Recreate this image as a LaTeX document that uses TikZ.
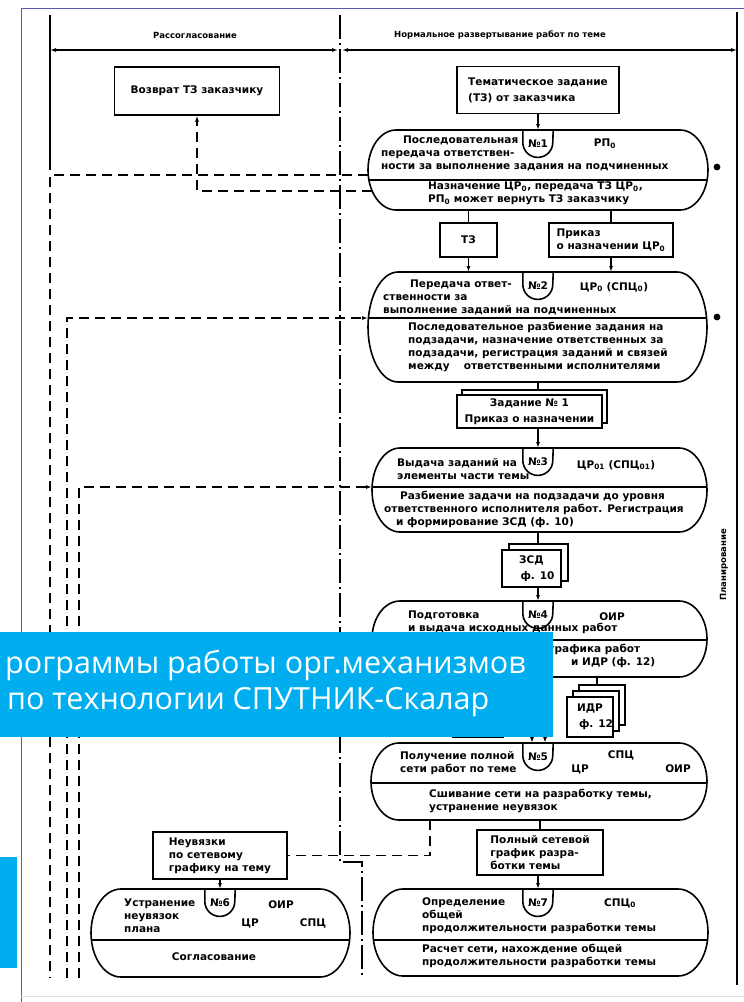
\documentclass[tikz,border=0pt]{standalone}
\usepackage{fontspec}
\newfontfamily\dfont{DejaVu Sans}
\newfontfamily\bannerfont{Open Sans}
\usetikzlibrary{arrows.meta,shadows,calc}

\definecolor{bannerblue}{RGB}{0,174,239}
\definecolor{frameblue}{RGB}{90,90,180}

\tikzset{
  txt/.style={font=\dfont\bfseries\fontsize{10.5}{13}\selectfont, inner sep=0pt, align=left},
  hdr/.style={font=\dfont\bfseries\fontsize{8.5}{10}\selectfont, inner sep=0pt},
  box/.style={txt, draw, line width=1.2pt, fill=white},
  oval/.style={inner sep=0pt, outer sep=0pt},
  ovalln/.style={line width=1.6pt},
  thinln/.style={line width=1.3pt},
  badge/.style={txt, anchor=north, minimum width=30, minimum height=27},
  dashln/.style={line width=1.4pt, dash pattern=on 10pt off 6pt},
  dashdot/.style={line width=1.2pt, dash pattern=on 24pt off 4pt on 2pt off 4pt},
  arr/.style={-{Latex[length=6pt,width=4pt]}},
  bannertxt/.style={font=\bannerfont\fontsize{30.5}{36}\selectfont, text=white, inner sep=0pt},
}

% outline of a stage: node, end radius, y of the dividing line
\newcommand\ovalshape[3]{%
  \draw[ovalln] let \p1=(#1.north west), \p2=(#1.south east),
      \n1={(\y1-\y2)/2}, \n2={(\y1+\y2)/2},
      \n3={#2*(1-sqrt(1-(((#3)-(\n2))/\n1)*(((#3)-(\n2))/\n1)))} in
    (\x1+#2pt,\y1) -- (\x2-#2pt,\y1)
    arc[start angle=90, end angle=-90, x radius=#2pt, y radius=\n1]
    -- (\x1+#2pt,\y2)
    arc[start angle=270, end angle=90, x radius=#2pt, y radius=\n1] -- cycle
    (\x1+\n3,#3 pt) -- (\x2-\n3,#3 pt);
}
% number tab on top of a stage
\newcommand\badgeshape[1]{%
  \draw[ovalln] (#1.north west) -- ([yshift=15pt]#1.south west)
    arc[start angle=180, end angle=360, radius=15pt] -- (#1.north east);
}

\begin{document}
\begin{tikzpicture}[x=1pt, y=1pt]
  \useasboundingbox (0,0) rectangle (744,-1002);

  % frame
  \draw[frameblue, line width=1pt] (21,-1002) -- (21,-8) -- (744,-8);
  \draw[black!12, line width=0.8pt] (21,-996) -- (744,-996);

  % columns
  \coordinate (lt) at (50,-15);
  \coordinate (lb) at (50,-170);
  \coordinate (rt) at (737,-12);
  \coordinate (rb) at (737,-985);
  \coordinate (mid) at (340,-50);
  \coordinate (dtop) at (340,-15);
  \coordinate (djog) at (340,-862);
  \coordinate (dbot) at (362,-978);
  \draw[thinln] (lt) -- (lb);
  \draw[thinln] (rt) -- (rb);
  \draw[dashdot] (dtop) -- (djog) -| (dbot);
  \draw[line width=1.1pt, {Latex[length=6pt,width=4pt]}-{Latex[length=6pt,width=4pt]}] (lt |- mid) -- ([xshift=-2pt]mid);
  \draw[line width=1.1pt, {Latex[length=6pt,width=4pt]}-{Latex[length=6pt,width=4pt]}] ([xshift=2pt]mid) -- (rt |- mid);
  \node[hdr] (h1) at (195,-35) {Рассогласование};
  \node[hdr] (h2) at (500,-35) {Нормальное развертывание работ по теме};
  \node[hdr, rotate=90] (plan) at (724,-565) {Планирование};

  % top boxes
  \node[box, minimum width=165, minimum height=48] (ret) at (197,-91) {Возврат ТЗ заказчику};
  \node[box, minimum width=162, minimum height=47] (tz) at (538,-90) {Тематическое задание\\[3pt](ТЗ) от заказчика};

  % stage 1
  \node[oval, minimum width=340, minimum height=80] (o1) at (538,-170) {};
  \node[badge] (b1) at (538,-130) {№1};
  \ovalshape{o1}{28}{-180}
  \badgeshape{b1}
  \node[txt, anchor=north west] (t1a) at (381,-136) {\hspace*{22pt}Последовательная\\передача ответствен-\\ности за выполнение задания на подчиненных};
  \node[txt] (t1b) at (605,-144) {РП\textsubscript{0}};
  \node[txt, anchor=north west] (t1c) at (428,-182) {Назначение ЦР\textsubscript{0}, передача ТЗ ЦР\textsubscript{0},\\РП\textsubscript{0} может вернуть ТЗ заказчику};
  \node[circle, fill, inner sep=2.4pt] (dot1) at (717,-167) {};
  \draw[thinln, arr] (tz) -- (b1);

  \node[box, minimum width=57, minimum height=34] (tzb) at (468.5,-240) {ТЗ};
  \node[box, minimum width=124, minimum height=34] (prk) at (611,-240) {Приказ\\о назначении ЦР\textsubscript{0}};
  \draw[thinln] (o1.south -| tzb.north) -- (tzb.north);
  \draw[thinln] (o1.south -| prk.north) -- (prk.north);

  % stage 2
  \node[oval, minimum width=339, minimum height=110] (o2) at (537.5,-327) {};
  \node[badge] (b2) at (538,-272) {№2};
  \ovalshape{o2}{30}{-318}
  \badgeshape{b2}
  \node[txt, anchor=north west] (t2a) at (383,-280) {\hspace*{27pt}Передача ответ-\\ственности за\\выполнение заданий на подчиненных};
  \node[txt] (t2b) at (614,-287) {ЦР\textsubscript{0} (СПЦ\textsubscript{0})};
  \node[txt, anchor=north west] (t2c) at (408,-322) {Последовательное разбиение задания на\\подзадачи, назначение ответственных за\\подзадачи, регистрация заданий и связей\\между \quad ответственными исполнителями};
  \node[circle, fill, inner sep=2.4pt] (dot2) at (717,-317) {};
  \draw[thinln, arr] (tzb.south) -- (tzb.south |- o2.north);
  \draw[thinln, arr] (prk.south) -- (prk.south |- o2.north);

  \node[box, copy shadow={shadow xshift=5pt, shadow yshift=5pt}, minimum width=145, minimum height=33, align=center] (zad) at (529.5,-411.5) {Задание № 1\\[3pt]Приказ о назначении};
  \draw[thinln] (o2.south -| b2.north) -- ($(zad.north -| b2.north)+(0,5)$);

  % stage 3
  \node[oval, minimum width=335, minimum height=84] (o3) at (539.5,-490) {};
  \node[badge] (b3) at (538,-448) {№3};
  \ovalshape{o3}{28}{-487}
  \badgeshape{b3}
  \draw[thinln, arr] (zad.south -| b3.north) -- (b3.north);
  \node[txt, anchor=north west] (t3a) at (397,-458) {Выдача заданий на\\элементы части темы};
  \node[txt] (t3b) at (616,-465) {ЦР\textsubscript{01} (СПЦ\textsubscript{01})};
  \node[txt, anchor=north west] (t3c) at (384,-491) {\hspace*{16pt}Разбиение задачи на подзадачи до уровня\\ответственного исполнителя работ. Регистрация\\\hspace*{12pt}и формирование ЗСД (ф. 10)};

  \node[box, copy shadow={shadow xshift=7pt, shadow yshift=6pt}, minimum width=59, minimum height=37, align=center] (zsd) at (531.5,-568.5) {ЗСД\\[3pt]\hspace*{12pt}ф. 10};
  \draw[thinln] (o3.south -| b3.north) -- ($(zsd.north -| b3.north)+(0,6)$);

  % stage 4
  \node[oval, minimum width=335, minimum height=76] (o4) at (539.5,-639) {};
  \node[badge] (b4) at (538,-601) {№4};
  \ovalshape{o4}{28}{-640}
  \badgeshape{b4}
  \draw[thinln, arr] (zsd.south -| b4.north) -- (b4.north);
  \node[txt, anchor=north west] (t4a) at (408,-611) {Подготовка\\и выдача исходных данных работ};
  \node[txt] (t4b) at (612,-617) {ОИР};
  \node[txt, anchor=north west] (t4c) at (549,-644) {графика работ\\\hspace*{22pt}и ИДР (ф. 12)};

  \node[box, double copy shadow={shadow xshift=6pt, shadow yshift=6pt}, minimum width=46, minimum height=40, align=center] (idr) at (590,-717) {ИДР\\[3pt]\hspace*{12pt}ф. 12};
  \node[box, minimum width=50, minimum height=42] (hid) at (478,-716) {};
  \draw[thinln] (o4.south -| 597,0) -- ($(idr.north -| 597,0)+(0,12)$);

  % stage 5
  \node[oval, minimum width=336, minimum height=77] (o5) at (539,-781.5) {};
  \node[badge] (b5) at (538,-743) {№5};
  \ovalshape{o5}{28}{-783}
  \badgeshape{b5}
  \coordinate (a5) at (532,-737);
  \coordinate (c5) at (545,-737);
  \draw[thinln, arr] (a5) -- (a5 |- b5.north);
  \draw[thinln, arr] (c5) -- (c5 |- b5.north);
  \node[txt, anchor=north west] (t5a) at (400,-751) {Получение полной\\сети работ по теме};
  \node[txt] (t5b) at (621,-755) {СПЦ};
  \node[txt] (t5c) at (580,-769) {ЦР};
  \node[txt] (t5d) at (678,-769) {ОИР};
  \node[txt, anchor=north west] (t5e) at (429,-789) {Сшивание сети на разработку темы,\\устранение неувязок};

  \node[box, minimum width=126, minimum height=45] (pol) at (540,-852.5) {Полный сетевой\\график разра-\\ботки темы};
  \draw[thinln] (o5.south -| pol.north) -- (pol.north);

  % stage 7
  \node[oval, minimum width=335, minimum height=87] (o7) at (540.5,-932.5) {};
  \node[badge] (b7) at (538,-889) {№7};
  \ovalshape{o7}{30}{-940}
  \badgeshape{b7}
  \draw[thinln, arr] (pol.south -| b7.north) -- (b7.north);
  \node[txt, anchor=north west] (t7a) at (422,-897) {Определение\\общей\\продолжительности разработки темы};
  \node[txt] (t7b) at (620,-903) {СПЦ\textsubscript{0}};
  \node[txt, anchor=north west] (t7c) at (422,-944) {Расчет сети, нахождение общей\\продолжительности разработки темы};

  % stage 6
  \node[box, minimum width=134, minimum height=47] (neu) at (220,-855.5) {Неувязки\\по сетевому\\графику на тему};
  \node[oval, minimum width=259, minimum height=88] (o6) at (220.5,-933) {};
  \node[badge] (b6) at (220,-889) {№6};
  \ovalshape{o6}{30}{-940}
  \badgeshape{b6}
  \draw[thinln, arr] (neu.south -| b6.north) -- (b6.north);
  \node[txt, anchor=north west] (t6a) at (124,-899) {Устранение\\неувязок\\плана};
  \node[txt] (t6b) at (281,-905) {ОИР};
  \node[txt] (t6c) at (250,-923) {ЦР};
  \node[txt] (t6d) at (313,-923) {СПЦ};
  \node[txt] (t6e) at (214,-957) {Согласование};

  % feedback lines
  \coordinate (d5) at (430,-820);
  \draw[dashln] (d5) |- (neu.east);
  \draw[dashln, arr] ([yshift=-21pt]o1.west) ++(4,0) -| (ret.south);
  \coordinate (e1) at (50,-978);
  \coordinate (e2) at (67,-978);
  \coordinate (e3) at (79,-978);
  \draw[dashln] ([yshift=-5pt]o1.west) -| (e1);
  \draw[dashln, arr] (e2) |- ([yshift=9pt]o2.west);
  \draw[dashln, arr] (e3) |- ([yshift=3pt]o3.west);

  % overlay banner
  \node[fill=bannerblue, anchor=north west, minimum width=553, minimum height=105, inner sep=0pt] (ban) at (0,-632) {};
  \node[fill=bannerblue, anchor=north west, minimum width=17, minimum height=111, inner sep=0pt] (ban2) at (0,-857) {};
  \node[bannertxt, anchor=base west] (bn1) at (5,-673) {рограммы работы орг.механизмов};
  \node[bannertxt, anchor=base west] (bn2) at (7,-709) {по технологии СПУТНИК-Скалар};
\end{tikzpicture}
\end{document}
